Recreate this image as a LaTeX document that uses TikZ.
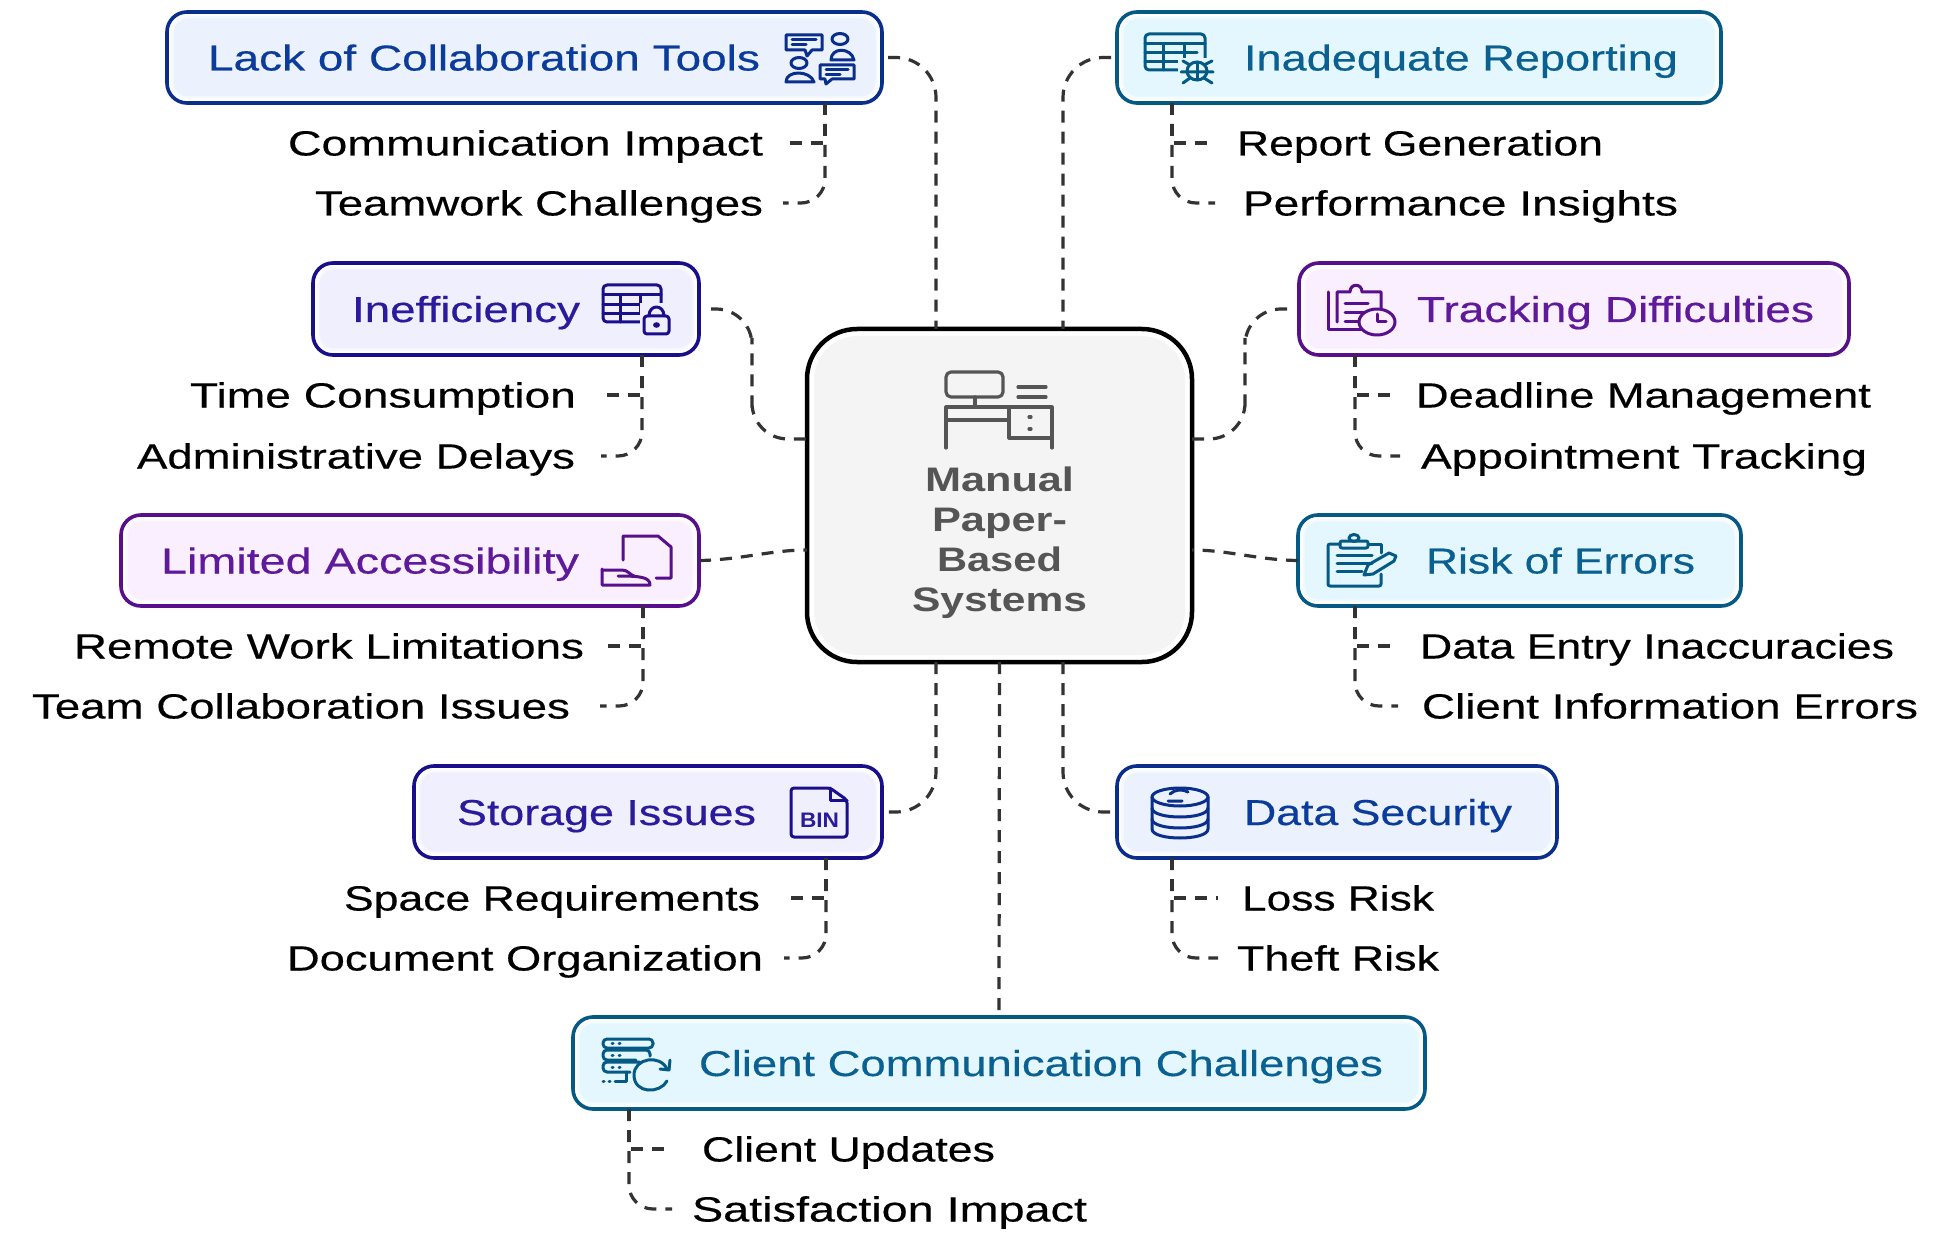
\documentclass[tikz,border=0pt]{standalone}
\usepackage{graphicx}
\usepackage{fontspec}
\setmainfont[UprightFeatures={FakeBold=0.35}]{Liberation Sans}
\usetikzlibrary{calc}
\definecolor{bluL}{HTML}{0A2E8C}\definecolor{bluT}{HTML}{0B3C9C}\definecolor{bluF}{HTML}{EBF2FE}
\definecolor{indL}{HTML}{1A0F8A}\definecolor{indT}{HTML}{2A1A9C}\definecolor{indF}{HTML}{F0EFFD}
\definecolor{purL}{HTML}{580F8C}\definecolor{purT}{HTML}{5F1A9C}\definecolor{purF}{HTML}{F9EFFE}
\definecolor{teaL}{HTML}{045A85}\definecolor{teaT}{HTML}{0A6090}\definecolor{teaF}{HTML}{E5F7FE}
\definecolor{conC}{HTML}{333333}\definecolor{cenT}{HTML}{555555}\definecolor{cenF}{HTML}{F4F4F4}
\newsavebox\fbx
\newcommand\fitw[2]{\sbox\fbx{#2}\pgfmathsetmacro\fr{(#1)/(\the\wd\fbx)}\scalebox{\fr}[1]{\usebox\fbx}}
\tikzset{
  conn/.style={draw=conC,line width=3.2pt,dash pattern=on 12pt off 9pt},
  cbox/.style={draw=#1L,fill=white,line width=3.6pt,rounded corners=20pt,inner sep=0pt,outer sep=0pt},
  lab/.style={anchor=west,inner sep=0pt,outer sep=0pt,text height=25pt,text depth=0pt,font=\fontsize{35}{35}\selectfont,text=black},
  ttl/.style={anchor=west,inner sep=0pt,outer sep=0pt,text height=26pt,text depth=0pt,font=\fontsize{36}{36}\selectfont,text=#1T},
  ctr/.style={anchor=base west,inner sep=0pt,outer sep=0pt,font=\bfseries\fontsize{34}{34}\selectfont,text=cenT},
  ic/.style={draw=#1L,line width=3pt,line cap=round,line join=round},
}
% name, x1,y1,x2,y2, colour
\newcommand\cardbox[6]{%
  \node[cbox=#6,minimum width=#4pt-#2pt,minimum height=#5pt-#3pt] (#1) at ({(#2+#4)/2},{(#3+#5)/2}) {};
  \fill[#6F!45!white,rounded corners=17pt] ($(#1.south west)+(4,-4)$) rectangle ($(#1.north east)+(-4,4)$);
  \fill[#6F,rounded corners=15pt] ($(#1.south west)+(6.5,-6.5)$) rectangle ($(#1.north east)+(-6.5,6.5)$);
}
\newcommand\ttlat[6]{\node[ttl=#1] (#2) at (#4,#6) {\fitw{#5-#4}{#3}};}
\newcommand\labat[5]{\node[lab] (#1) at (#3,#5) {\fitw{#4-#3}{#2}};}
\newcommand\ctrat[5]{\node[ctr] (#1) at (#3,#5) {\fitw{#4-#3}{#2}};}
% box, trunk point, first label, anchor, gap, second label, gap
\newcommand\twigs[6]{%
  \draw[conn,shorten >=#4pt] (#1) |- (#2.#3);
  \draw[conn,rounded corners=24pt,shorten >=#6pt] (#1) |- (#5.#3);
}
\newcommand\tblicon[5]{% x1 y1 x2 y2 colour
  \draw[ic=#5,rounded corners=4pt] (#1,#2) rectangle (#3,#4);
  \draw[ic=#5] (#1,{#2+(#4-#2)*.27}) -- (#3,{#2+(#4-#2)*.27});
  \draw[ic=#5] (#1,{#2+(#4-#2)*.52}) -- ({#3-8},{#2+(#4-#2)*.52});
  \draw[ic=#5] (#1,{#2+(#4-#2)*.76}) -- ({#3-16},{#2+(#4-#2)*.76});
  \draw[ic=#5] ({#1+(#3-#1)*.3},{#2+(#4-#2)*.27}) -- ({#1+(#3-#1)*.3},#4);
  \draw[ic=#5] ({#1+(#3-#1)*.65},{#2+(#4-#2)*.27}) -- ({#1+(#3-#1)*.65},{#2+(#4-#2)*.76});
}
\begin{document}
\begin{tikzpicture}[x=1pt,y=-1pt]
\useasboundingbox (0,0) rectangle (1939,1233);
\fill[white] (0,0) rectangle (1939,1233);

% centre
\node[draw=black,fill=white,line width=4.5pt,rounded corners=50pt,minimum width=385pt,minimum height=333pt,inner sep=0pt,outer sep=0pt] (center) at (999.5,495.5) {};
\fill[cenF,rounded corners=44pt] ($(center.south west)+(7,-7)$) rectangle ($(center.north east)+(-7,7)$);
\ctrat{cm1}{Manual}{925}{1074}{491}
\ctrat{cm2}{Paper-}{932}{1067}{531}
\ctrat{cm3}{Based}{937}{1062}{571}
\ctrat{cm4}{Systems}{912}{1087}{611}
\begin{scope}[draw=cenT,line width=3.2pt,line cap=round,line join=round]
  \draw[rounded corners=5pt] (946,372) rectangle (1003,397);
  \draw (975,397) -- (975,407);
  \draw (946,448) -- (946,407) -- (1052,407) -- (1052,448);
  \draw (946,420) -- (1009,420);
  \draw (1009,407) -- (1009,438) -- (1052,438);
  \draw (1018,387) -- (1046,387);
  \draw (1018,397) -- (1046,397);
  \draw (1029,417) -- (1031,417);
  \draw (1029,429) -- (1031,429);
\end{scope}

% boxes
\cardbox{lack}{167}{12}{882}{103}{blu}
\cardbox{inad}{1117}{12}{1721}{103}{tea}
\cardbox{inef}{313}{263}{699}{355}{ind}
\cardbox{trak}{1299}{263}{1849}{355}{pur}
\cardbox{limi}{121}{515}{699}{606}{pur}
\cardbox{risk}{1298}{515}{1741}{606}{tea}
\cardbox{stor}{414}{766}{882}{858}{ind}
\cardbox{data}{1117}{766}{1557}{858}{blu}
\cardbox{clie}{573}{1017}{1425}{1109}{tea}

% titles
\ttlat{blu}{lackT}{Lack of Collaboration Tools}{208}{760}{57.5}
\ttlat{tea}{inadT}{Inadequate Reporting}{1244}{1678}{57.5}
\ttlat{ind}{inefT}{Inefficiency}{352}{580}{309}
\ttlat{pur}{trakT}{Tracking Difficulties}{1417}{1814}{309}
\ttlat{pur}{limiT}{Limited Accessibility}{161}{579}{560.5}
\ttlat{tea}{riskT}{Risk of Errors}{1426}{1695}{560.5}
\ttlat{ind}{storT}{Storage Issues}{457}{756}{812}
\ttlat{blu}{dataT}{Data Security}{1244}{1512}{812}
\ttlat{tea}{clieT}{Client Communication Challenges}{699}{1383}{1063}

% labels
\labat{lackA}{Communication Impact}{288}{763}{143}
\labat{lackB}{Teamwork Challenges}{315}{763}{203}
\labat{inefA}{Time Consumption}{190}{576}{395}
\labat{inefB}{Administrative Delays}{137}{575}{456}
\labat{limiA}{Remote Work Limitations}{74}{584}{646}
\labat{limiB}{Team Collaboration Issues}{32}{570}{706}
\labat{storA}{Space Requirements}{344}{760}{898}
\labat{storB}{Document Organization}{287}{763}{958}
\labat{inadA}{Report Generation}{1237}{1603}{143}
\labat{inadB}{Performance Insights}{1243}{1678}{203}
\labat{trakA}{Deadline Management}{1416}{1871}{395}
\labat{trakB}{Appointment Tracking}{1421}{1867}{456}
\labat{riskA}{Data Entry Inaccuracies}{1420}{1894}{646}
\labat{riskB}{Client Information Errors}{1422}{1918}{706}
\labat{dataA}{Loss Risk}{1242}{1434}{898}
\labat{dataB}{Theft Risk}{1237}{1439}{958}
\labat{clieA}{Client Updates}{702}{995}{1149}
\labat{clieB}{Satisfaction Impact}{692}{1087}{1209}

% main connectors
\coordinate (ctA) at (936,329);
\coordinate (ctB) at (1063,329);
\coordinate (cbA) at (936,662);
\coordinate (cbB) at (1063,662);
\coordinate (cwA) at (807,439);
\coordinate (cwB) at (807,550);
\coordinate (ceA) at (1192,439);
\coordinate (ceB) at (1192,550);
\coordinate (mA) at (752,374);
\coordinate (mB) at (1245,374);
\draw[conn,rounded corners=40pt,shorten <=6pt] (lack.east) -| (ctA);
\draw[conn,rounded corners=40pt,shorten <=6pt] (inad.west) -| (ctB);
\draw[conn,rounded corners=36pt,shorten <=12pt] (inef.east) -| (mA) |- (cwA);
\draw[conn,rounded corners=36pt,shorten <=12pt] (trak.west) -| (mB) |- (ceA);
\draw[conn] (limi.east) .. controls (740,560) and (770,550) .. (cwB);
\draw[conn] (risk.west) .. controls (1258,560) and (1228,550) .. (ceB);
\draw[conn,rounded corners=40pt,shorten >=6pt] (cbA) |- (stor.east);
\draw[conn,rounded corners=40pt,shorten >=6pt] (cbB) |- (data.west);
\draw[conn] (center.south) -- (clie.north);

% sub connectors
\coordinate (lackS) at ($(lack.south east)+(-57,0)$);
\coordinate (inefS) at ($(inef.south east)+(-57,0)$);
\coordinate (limiS) at ($(limi.south east)+(-56,0)$);
\coordinate (storS) at ($(stor.south east)+(-56,0)$);
\coordinate (inadS) at ($(inad.south west)+(55,0)$);
\coordinate (trakS) at ($(trak.south west)+(56,0)$);
\coordinate (riskS) at ($(risk.south west)+(57,0)$);
\coordinate (dataS) at ($(data.south west)+(55,0)$);
\coordinate (clieS) at ($(clie.south west)+(56,0)$);
\twigs{lackS}{lackA}{east}{22}{lackB}{20}
\twigs{inefS}{inefA}{east}{26}{inefB}{26}
\twigs{limiS}{limiA}{east}{19}{limiB}{30}
\twigs{storS}{storA}{east}{26}{storB}{21}
\twigs{inadS}{inadA}{west}{24}{inadB}{28}
\twigs{trakS}{trakA}{west}{19}{trakB}{21}
\twigs{riskS}{riskA}{west}{24}{riskB}{24}
\twigs{dataS}{dataA}{west}{24}{dataB}{19}
\twigs{clieS}{clieA}{west}{32}{clieB}{20}

% icon: collaboration
\draw[ic=blu] (786,35) -- (822,35) -- (822,50) -- (812,50) -- (807,56) -- (805,50) -- (786,50) -- cycle;
\draw[ic=blu] (792,40) -- (816,40) (792,45) -- (806,45);
\draw[ic=blu] (840,39) ellipse (8 and 5.5);
\draw[ic=blu] (831,60) .. controls (831,47) and (851,47) .. (854,60) -- cycle;
\draw[ic=blu] (799,63) ellipse (8 and 5.5);
\draw[ic=blu] (786,82) .. controls (786,70) and (810,70) .. (814,82) -- cycle;
\fill[bluF] (818,63) rectangle (856,80);
\draw[ic=blu] (820,65) -- (854,65) -- (854,79) -- (832,79) -- (826,84) -- (825,79) -- (820,79) -- cycle;
\draw[ic=blu] (826,70) -- (848,70) (826,74.5) -- (840,74.5);

% icon: inefficiency
\tblicon{603}{285}{661}{322}{ind}
\fill[indF] (640,303) rectangle (672,336);
\draw[ic=ind,rounded corners=3pt] (644,316) rectangle (669,334);
\draw[ic=ind] (649,316) .. controls (649,304) and (664,304) .. (664,316);
\fill[indL] (656.5,325) ellipse (3.5 and 2.8);

% icon: accessibility
\draw[ic=pur] (623,560) -- (623,536) -- (658,536) -- (671,547) -- (671,578) -- (656,578);
\draw[ic=pur] (602,569) -- (602,585) -- (650,585) .. controls (650,577) and (640,576) .. (618,576);
\draw[ic=pur] (602,570) -- (622,570) .. controls (628,570) and (630,575) .. (634,576);

% icon: BIN
\draw[ic=ind,rounded corners=3pt] (791,788) -- (830,788) -- (847,800) -- (847,837) -- (791,837) -- cycle;
\draw[ic=ind] (830,788) -- (830,800) -- (847,800);
\node[inner sep=0pt,outer sep=0pt,anchor=west,text=indT,font=\bfseries\fontsize{21}{21}\selectfont] (binT) at (800,820) {\fitw{39}{BIN}};

% icon: reporting
\tblicon{1145}{34}{1205}{70}{tea}
\fill[teaF] (1178,58) rectangle (1216,85);
\draw[ic=tea] (1197,71) ellipse (10 and 9);
\draw[ic=tea] (1197,62) -- (1197,80);
\draw[ic=tea] (1183,61) -- (1190,65) (1212,61) -- (1204,65) (1181,72) -- (1213,72) (1183,83) -- (1190,78) (1212,83) -- (1204,78);

% icon: tracking
\draw[ic=pur] (1328,292) -- (1328,330) -- (1362,330);
\draw[ic=pur] (1337,322) -- (1337,292) -- (1350,292) .. controls (1350,283) and (1362,283) .. (1362,292) -- (1381,292) -- (1381,312);
\draw[ic=pur] (1345,304) -- (1368,304) (1345,313) -- (1368,313) (1345,322) -- (1358,322);
\fill[purF] (1377,322) ellipse (18 and 13);
\draw[ic=pur] (1377,322) ellipse (18 and 13);
\draw[ic=pur] (1377,314) -- (1377,322) -- (1386,322);

% icon: errors
\draw[ic=tea,rounded corners=2pt] (1340,544) -- (1328,544) -- (1328,586) -- (1381,586) -- (1381,574);
\draw[ic=tea] (1368,544) -- (1381,544) -- (1381,553);
\draw[ic=tea,rounded corners=2pt] (1340,541) rectangle (1368,548);
\draw[ic=tea] (1354,538) ellipse (5 and 3.5);
\draw[ic=tea] (1337,555) -- (1372,555) (1337,563) -- (1372,563) (1337,571) -- (1362,571);
\draw[ic=tea] (1364,575) -- (1368,565) -- (1389,553) -- (1396,556) -- (1394,561) -- (1373,574) -- cycle;

% icon: database
\draw[ic=blu] (1180,797) ellipse (28 and 9);
\draw[ic=blu] (1152,797) -- (1152,829) .. controls (1152,841) and (1208,841) .. (1208,829) -- (1208,797);
\draw[ic=blu] (1152,808) .. controls (1152,820) and (1208,820) .. (1208,808);
\draw[ic=blu] (1152,819) .. controls (1152,831) and (1208,831) .. (1208,819);
\draw[ic=blu] (1170,794) .. controls (1175,789) and (1183,789) .. (1188,792) (1168,801) -- (1182,801);

% icon: server + refresh
\draw[ic=tea,rounded corners=4pt] (640,1048) -- (603,1048) -- (603,1039) -- (653,1039) -- (653,1048) -- (640,1048);
\draw[ic=tea,rounded corners=4pt] (636,1060) -- (603,1060) -- (603,1050) -- (650,1050) -- (650,1056);
\draw[ic=tea,rounded corners=4pt] (630,1072) -- (603,1072) -- (603,1062) -- (640,1062);
\draw[ic=tea] (612,1043.5) -- (613,1043.5) (619,1043.5) -- (620,1043.5) (612,1055) -- (613,1055) (619,1055) -- (620,1055) (612,1067) -- (613,1067) (619,1067) -- (620,1067);
\draw[ic=tea] (603,1081) -- (604,1081) (609,1081) -- (610,1081) (615,1081) -- (626,1081) -- (626,1072);
\draw[ic=tea] (667,1069) .. controls (660,1054) and (634,1058) .. (634,1075) .. controls (634,1094) and (660,1094) .. (667,1081);
\draw[ic=tea] (660,1069) -- (669,1070) -- (670,1060);
\end{tikzpicture}
\end{document}
